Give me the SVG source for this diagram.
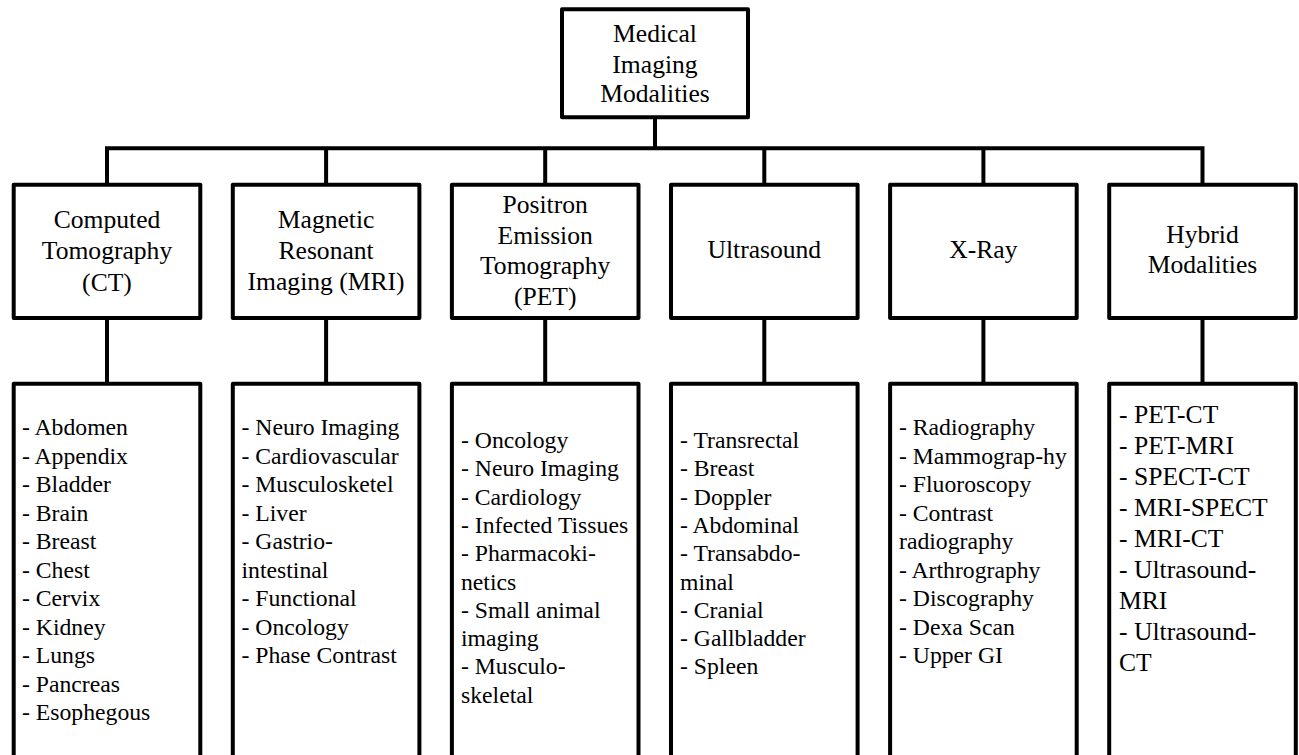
<svg xmlns="http://www.w3.org/2000/svg" width="1299" height="755" viewBox="0 0 1299 755">
<style>
.box{fill:#fff;stroke:#000;stroke-width:4;stroke-linejoin:round}
.con{fill:none;stroke:#000;stroke-width:4;stroke-linejoin:miter}
.t{font-family:"Liberation Serif","Times New Roman",serif;font-size:25.6px;fill:#000;text-anchor:middle}
.l{font-family:"Liberation Serif","Times New Roman",serif;font-size:23.7px;fill:#000}
.h{font-family:"Liberation Serif","Times New Roman",serif;font-size:25.6px;fill:#000}
</style>
<rect width="1299" height="755" fill="#fff"/>
<g id="connectors">
<path class="con" d="M655,117 V148.3"/>
<path class="con" d="M107,185 V148.3 H1202.5 V185"/>
<path class="con" d="M326.1,148.3 V185 M545.2,148.3 V185 M764.3,148.3 V185 M983.4,148.3 V185"/>
<path class="con" d="M107,318 V384 M326.1,318 V384 M545.2,318 V384 M764.3,318 V384 M983.4,318 V384 M1202.5,318 V384"/>
</g>
<g id="root">
<rect class="box" x="562" y="9.3" width="186" height="108"/>
<text class="t"><tspan x="655" y="42">Medical</tspan><tspan x="655" y="72.5">Imaging</tspan><tspan x="655" y="102">Modalities</tspan></text>
</g>
<g id="ct">
<rect class="box" x="13.7" y="184.7" width="186.6" height="133.3"/>
<text class="t"><tspan x="107" y="228">Computed</tspan><tspan x="107" y="259">Tomography</tspan><tspan x="107" y="290.5">(CT)</tspan></text>
</g>
<g id="mri">
<rect class="box" x="232.8" y="184.7" width="186.6" height="133.3"/>
<text class="t"><tspan x="326.1" y="228">Magnetic</tspan><tspan x="326.1" y="258.5">Resonant</tspan><tspan x="326.1" y="289.5">Imaging (MRI)</tspan></text>
</g>
<g id="pet">
<rect class="box" x="451.9" y="184.7" width="186.6" height="133.3"/>
<text class="t"><tspan x="545.2" y="213">Positron</tspan><tspan x="545.2" y="243.5">Emission</tspan><tspan x="545.2" y="274">Tomography</tspan><tspan x="545.2" y="304.5">(PET)</tspan></text>
</g>
<g id="us">
<rect class="box" x="671" y="184.7" width="186.6" height="133.3"/>
<text class="t" x="764.3" y="258">Ultrasound</text>
</g>
<g id="xray">
<rect class="box" x="890.1" y="184.7" width="186.6" height="133.3"/>
<text class="t" x="983.4" y="258">X-Ray</text>
</g>
<g id="hybrid">
<rect class="box" x="1109.2" y="184.7" width="186.6" height="133.3"/>
<text class="t"><tspan x="1202.5" y="243">Hybrid</tspan><tspan x="1202.5" y="273">Modalities</tspan></text>
</g>
<g id="ct-list">
<rect class="box" x="13.7" y="383.7" width="186.6" height="400"/>
<text class="l"><tspan x="22" y="435">- Abdomen</tspan><tspan x="22" y="463.5">- Appendix</tspan><tspan x="22" y="492">- Bladder</tspan><tspan x="22" y="520.5">- Brain</tspan><tspan x="22" y="549">- Breast</tspan><tspan x="22" y="577.5">- Chest</tspan><tspan x="22" y="606">- Cervix</tspan><tspan x="22" y="634.5">- Kidney</tspan><tspan x="22" y="663">- Lungs</tspan><tspan x="22" y="691.5">- Pancreas</tspan><tspan x="22" y="720">- Esophegous</tspan></text>
</g>
<g id="mri-list">
<rect class="box" x="232.8" y="383.7" width="186.6" height="400"/>
<text class="l"><tspan x="241.5" y="435">- Neuro Imaging</tspan><tspan x="241.5" y="463.5">- Cardiovascular</tspan><tspan x="241.5" y="492">- Musculosketel</tspan><tspan x="241.5" y="520.5">- Liver</tspan><tspan x="241.5" y="549">- Gastrio-</tspan><tspan x="241.5" y="577.5">intestinal</tspan><tspan x="241.5" y="606">- Functional</tspan><tspan x="241.5" y="634.5">- Oncology</tspan><tspan x="241.5" y="663">- Phase Contrast</tspan></text>
</g>
<g id="pet-list">
<rect class="box" x="451.9" y="383.7" width="186.6" height="400"/>
<text class="l"><tspan x="461" y="448">- Oncology</tspan><tspan x="461" y="476.3">- Neuro Imaging</tspan><tspan x="461" y="504.6">- Cardiology</tspan><tspan x="461" y="532.9">- Infected Tissues</tspan><tspan x="461" y="561.2">- Pharmacoki-</tspan><tspan x="461" y="589.5">netics</tspan><tspan x="461" y="617.8">- Small animal</tspan><tspan x="461" y="646.1">imaging</tspan><tspan x="461" y="674.4">- Musculo-</tspan><tspan x="461" y="702.7">skeletal</tspan></text>
</g>
<g id="us-list">
<rect class="box" x="671" y="383.7" width="186.6" height="400"/>
<text class="l"><tspan x="680" y="448">- Transrectal</tspan><tspan x="680" y="476.3">- Breast</tspan><tspan x="680" y="504.6">- Doppler</tspan><tspan x="680" y="532.9">- Abdominal</tspan><tspan x="680" y="561.2">- Transabdo-</tspan><tspan x="680" y="589.5">minal</tspan><tspan x="680" y="617.8">- Cranial</tspan><tspan x="680" y="646.1">- Gallbladder</tspan><tspan x="680" y="674.4">- Spleen</tspan></text>
</g>
<g id="xray-list">
<rect class="box" x="890.1" y="383.7" width="186.6" height="400"/>
<text class="l"><tspan x="899" y="435">- Radiography</tspan><tspan x="899" y="463.5">- Mammograp-hy</tspan><tspan x="899" y="492">- Fluoroscopy</tspan><tspan x="899" y="520.5">- Contrast</tspan><tspan x="899" y="549">radiography</tspan><tspan x="899" y="577.5">- Arthrography</tspan><tspan x="899" y="606">- Discography</tspan><tspan x="899" y="634.5">- Dexa Scan</tspan><tspan x="899" y="663">- Upper GI</tspan></text>
</g>
<g id="hybrid-list">
<rect class="box" x="1109.2" y="383.7" width="186.6" height="400"/>
<text class="h"><tspan x="1119" y="423">- PET-CT</tspan><tspan x="1119" y="454">- PET-MRI</tspan><tspan x="1119" y="485">- SPECT-CT</tspan><tspan x="1119" y="516">- MRI-SPECT</tspan><tspan x="1119" y="547">- MRI-CT</tspan><tspan x="1119" y="578">- Ultrasound-</tspan><tspan x="1119" y="609">MRI</tspan><tspan x="1119" y="640">- Ultrasound-</tspan><tspan x="1119" y="671">CT</tspan></text>
</g>
</svg>
